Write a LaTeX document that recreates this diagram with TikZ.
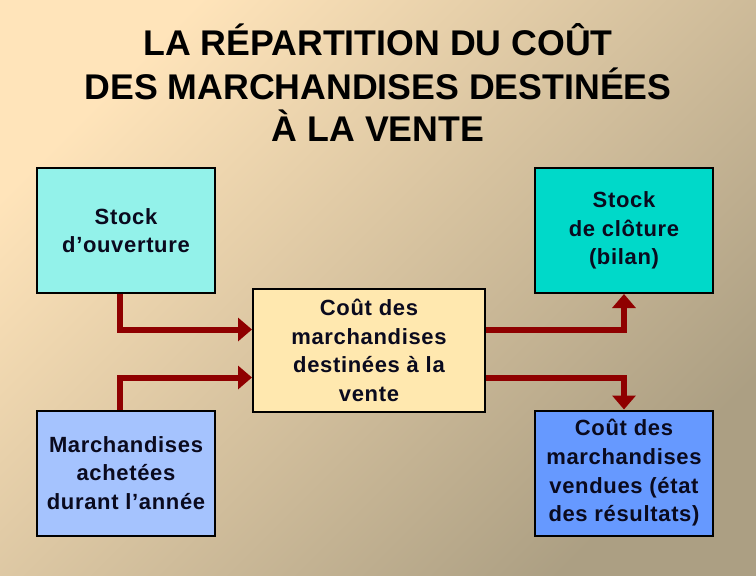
\documentclass[tikz,border=0pt]{standalone}
\usepackage{fontspec}
\setmainfont{Liberation Sans}
\newfontfamily\boxfont[LetterSpace=3]{Liberation Sans}
\usetikzlibrary{arrows.meta}
\definecolor{bgA}{HTML}{FFE4BA}
\definecolor{bgM}{HTML}{DCC7A1}
\definecolor{bgB}{HTML}{AC9F83}
\definecolor{cyanlight}{HTML}{93F2EA}
\definecolor{teal}{HTML}{00D9C9}
\definecolor{cream}{HTML}{FFE8AF}
\definecolor{bluelight}{HTML}{A5C3FE}
\definecolor{bluemid}{HTML}{6699FF}
\definecolor{arrred}{HTML}{8F0000}
\definecolor{txtdark}{HTML}{0A0A1E}
\begin{document}
\begin{tikzpicture}[x=1pt,y=-1pt,
  titletext/.style={anchor=base, inner sep=0pt, font=\bfseries\fontsize{35.7}{43}\selectfont, text=black},
  box/.style={draw=black, line width=2pt, minimum width=178pt, minimum height=125pt, inner sep=0pt,
    align=center, text=txtdark, font=\boxfont\bfseries\fontsize{22}{28.7}\selectfont},
  arr/.style={draw=arrred, line width=6pt, -{Triangle[length=14pt,width=23pt]}}]
\useasboundingbox (0,0) rectangle (756,576);
\shade[top color=bgA, middle color=bgM, bottom color=bgB, shading angle=45] (0,0) rectangle (756,576);

\node[titletext] (t1) at (378,55) {LA RÉPARTITION DU COÛT};
\node[titletext] (t2) at (378,99) {DES MARCHANDISES DESTINÉES};
\node[titletext] (t3) at (378,141) {À LA VENTE};

\node[box, fill=cyanlight] (so) at (126,230.5) {Stock\\d’ouverture};
\node[box, fill=teal] (sc) at (624,230.5) {Stock\\de clôture\\(bilan)};
\node[box, fill=cream, minimum width=232pt, minimum height=123pt] (cm) at (369,350.5) {Coût des\\marchandises\\destinées à la\\vente};
\node[box, fill=bluelight] (ma) at (126,473) {Marchandises\\achetées\\durant l’année};
\node[box, fill=bluemid] (cv) at (624,473) {Coût des\\marchandises\\vendues (état\\des résultats)};

\draw[arr] ([xshift=-6pt]so.south) |- ([yshift=21pt]cm.west);
\draw[arr] ([xshift=-6pt]ma.north) |- ([yshift=-27pt]cm.west);
\draw[arr] ([yshift=21pt]cm.east) -| (sc.south);
\draw[arr] ([yshift=-27pt]cm.east) -| (cv.north);
\end{tikzpicture}
\end{document}
